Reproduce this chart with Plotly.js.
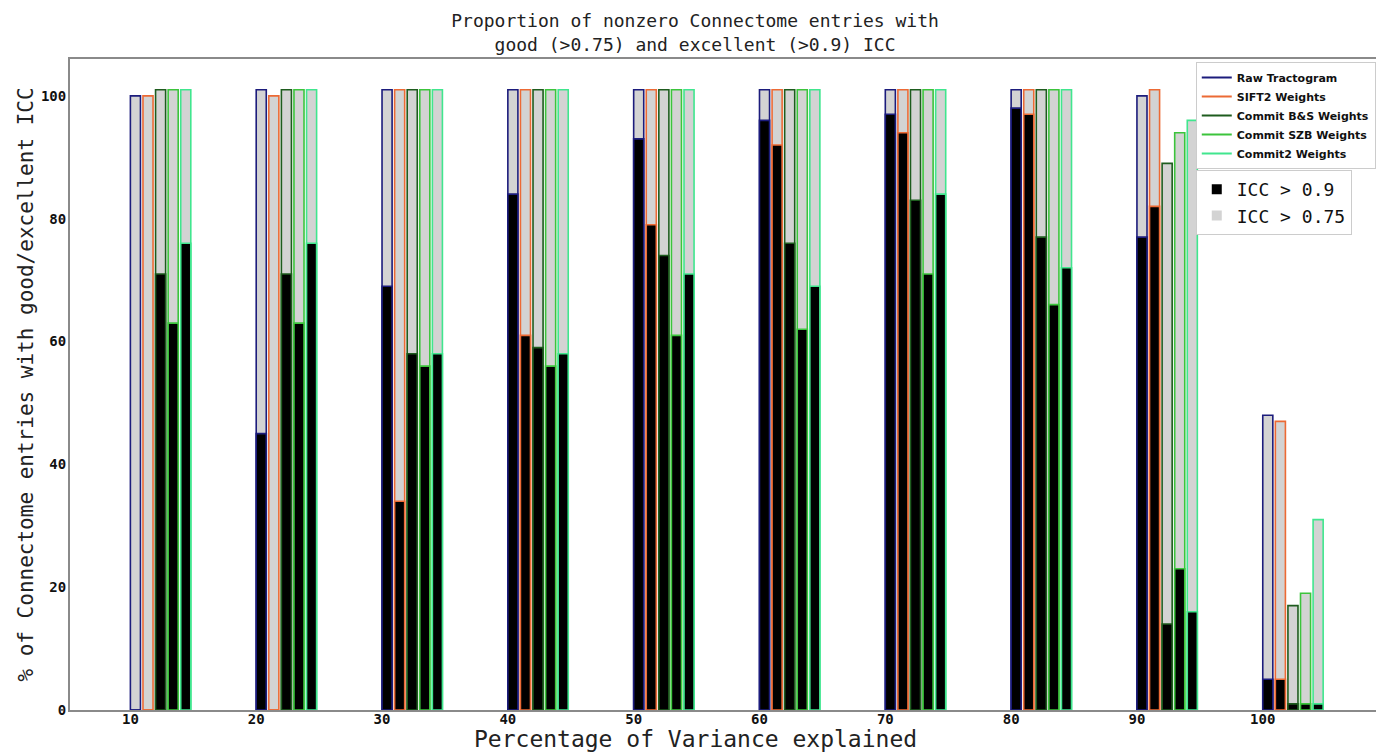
<!DOCTYPE html>
<html>
<head>
<meta charset="utf-8">
<script src="https://cdn.plot.ly/plotly-3.0.1.min.js"></script>
<style>
  html, body { margin: 0; padding: 0; background: #fff; }
  #chart { width: 1376px; height: 753px; }
</style>
</head>
<body>
<div id="chart"></div>
<script>
// Categories: percentage of variance explained
const variance = [10, 20, 30, 40, 50, 60, 70, 80, 90, 100];

// Series names
const seriesNames = ["Raw Tractogram", "SIFT2 Weights", "Commit B&S Weights", "Commit SZB Weights", "Commit2 Weights"];

// % of entries with ICC > 0.75 (good)
const goodRaw     = [100, 101, 101, 101, 101, 101, 101, 101, 100, 48];
const goodSIFT2   = [100, 100, 101, 101, 101, 101, 101, 101, 101, 47];
const goodBS      = [101, 101, 101, 101, 101, 101, 101, 101, 89, 17];
const goodSZB     = [101, 101, 101, 101, 101, 101, 101, 101, 94, 19];
const goodCommit2 = [101, 101, 101, 101, 101, 101, 101, 101, 96, 31];

// % of entries with ICC > 0.9 (excellent)
const excRaw     = [0, 45, 69, 84, 93, 96, 97, 98, 77, 5];
const excSIFT2   = [0, 0, 34, 61, 79, 92, 94, 97, 82, 5];
const excBS      = [71, 71, 58, 59, 74, 76, 83, 77, 14, 1];
const excSZB     = [63, 63, 56, 56, 61, 62, 71, 66, 23, 1];
const excCommit2 = [76, 76, 58, 58, 71, 69, 84, 72, 16, 1];

const yTicks = [0, 20, 40, 60, 80, 100];

const goodAll = [goodRaw, goodSIFT2, goodBS, goodSZB, goodCommit2];
const excAll = [excRaw, excSIFT2, excBS, excSZB, excCommit2];
const colors = ["#1c1c7c", "#ec6a35", "#1e5c1e", "#3cc43c", "#40e68e"];

const traces = [];
for (let i = 0; i < seriesNames.length; i++) {
  traces.push({
    type: "bar", x: variance, y: goodAll[i], offset: i, width: 0.8,
    marker: { color: "#d3d3d3", line: { color: colors[i], width: 1.6 } },
    showlegend: false, hoverinfo: "skip"
  });
  traces.push({
    type: "bar", x: variance, y: excAll[i], offset: i, width: 0.8,
    marker: { color: "#000000", line: { color: colors[i], width: 1.6 } },
    showlegend: false, hoverinfo: "skip"
  });
}
for (let i = 0; i < seriesNames.length; i++) {
  traces.push({
    type: "scatter", mode: "lines", x: [null], y: [null], name: seriesNames[i],
    line: { color: colors[i], width: 2 }, legend: "legend"
  });
}
traces.push({
  type: "scatter", mode: "markers", x: [null], y: [null], name: "ICC > 0.9",
  marker: { symbol: "square", size: 10, color: "#000000" }, legend: "legend2"
});
traces.push({
  type: "scatter", mode: "markers", x: [null], y: [null], name: "ICC > 0.75",
  marker: { symbol: "square", size: 10, color: "#d3d3d3" }, legend: "legend2"
});

const mono = "DejaVu Sans Mono";
const layout = {
  width: 1376, height: 753,
  margin: { l: 70, r: 0, t: 59, b: 43, autoexpand: false },
  paper_bgcolor: "#ffffff", plot_bgcolor: "#ffffff",
  barmode: "overlay",
  title: {
    text: "Proportion of nonzero Connectome entries with<br>good (>0.75) and excellent (>0.9) ICC",
    font: { family: mono, size: 18, color: "#222" },
    x: 0.4786, xref: "paper", xanchor: "center",
    y: 0.9635, yref: "container", yanchor: "middle"
  },
  xaxis: {
    range: [5.2, 109], tickvals: variance, ticks: "", ticklabelstandoff: -5,
    showline: true, mirror: true, linecolor: "#8a8a8a", linewidth: 2,
    showgrid: false, zeroline: false, automargin: false,
    tickfont: { family: mono, size: 14, weight: "bold", color: "#111" }
  },
  yaxis: {
    range: [0, 106], tickvals: yTicks, ticks: "", ticklabelstandoff: -1,
    showline: true, mirror: true, linecolor: "#8a8a8a", linewidth: 2,
    showgrid: false, zeroline: false, automargin: false,
    tickfont: { family: mono, size: 14, weight: "bold", color: "#111" },
    title: { text: "% of Connectome entries with good/excellent ICC", font: { family: mono, size: 21, color: "#222" }, standoff: 2 }
  },
  annotations: [{
    text: "Percentage of Variance explained", showarrow: false,
    xref: "paper", yref: "paper", x: 0.4786, y: -0.0655, xanchor: "center", yanchor: "bottom",
    borderpad: 0,
    font: { family: mono, size: 23, color: "#222" }
  }],
  legend: {
    x: 0.862, y: 0.9954, xanchor: "left", yanchor: "top",
    bgcolor: "#ffffff", bordercolor: "#cccccc", borderwidth: 1,
    font: { family: "DejaVu Sans", size: 11, weight: "bold", color: "#111" },
    tracegroupgap: 0, itemwidth: 30
  },
  legend2: {
    x: 0.862, y: 0.8295, xanchor: "left", yanchor: "top",
    bgcolor: "#ffffff", bordercolor: "#cccccc", borderwidth: 1,
    font: { family: mono, size: 18, color: "#111" },
    tracegroupgap: 0, itemwidth: 30, entrywidth: 170, entrywidthmode: "pixels"
  },
  showlegend: true
};

Plotly.newPlot("chart", traces, layout, { staticPlot: true, displayModeBar: false });
</script>
</body>
</html>
